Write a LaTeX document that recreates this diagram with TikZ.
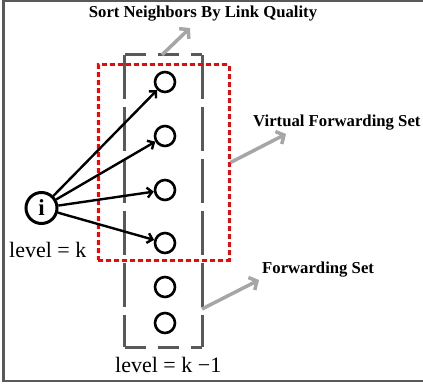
\documentclass[tikz,border=0pt]{standalone}
\usepackage{fontspec}
\setmainfont{Liberation Serif}
\usetikzlibrary{positioning,arrows.meta}

\begin{document}
\begin{tikzpicture}[x=1pt, y=-1pt,
    % Box styles
    levelbox/.style={minimum width=77pt, minimum height=292pt, inner sep=0pt},
    levelv/.style={draw=black!65, line width=3pt, dash pattern=on 44pt off 8pt},
    levelh/.style={draw=black!65, line width=3pt, dash pattern=on 21pt off 12pt},
    vfsbox/.style={draw=red, line width=3pt, dash pattern=on 5pt off 3pt, minimum width=131pt, minimum height=195pt, inner sep=0pt},
    % Node styles
    src/.style={circle, draw, line width=3pt, minimum size=31pt, inner sep=0pt, font=\fontsize{23}{24}\selectfont\bfseries},
    nb/.style={circle, draw, line width=2.6pt, minimum size=20pt, inner sep=0pt},
    % Label styles
    note/.style={font=\fontsize{16.7}{18}\selectfont\bfseries, inner sep=0pt},
    level/.style={font=\fontsize{22}{24}\selectfont, inner sep=0pt},
    % Connector styles
    link/.style={draw, line width=2.4pt, -{Straight Barb[length=5pt, width=10pt, line width=2.4pt]}},
    pointer/.style={draw=black!35, line width=3.5pt, -{Straight Barb[length=6pt, width=14pt, line width=3.5pt]}},
]
\useasboundingbox (0,0) rectangle (423,385);

% Frame (open on the right)
\draw[black!65, line width=2.5pt] (424,1) -- (3.5,1) -- (3.5,381) -- (424,381);

% Sets
\node[levelbox] (level-box) at (163.5,201) {};
\draw[levelv] (level-box.north west) -- (level-box.south west);
\draw[levelv] (level-box.north east) -- (level-box.south east);
\draw[levelh] (level-box.north west) -- (level-box.north east);
\draw[levelh] (level-box.south west) -- (level-box.south east);
\node[vfsbox] (vfs-box) at (163.5,162.5) {};

% Source node and its neighbours
\node[src] (i) at (41.5,208) {i};
\node[nb] (nb1) at (165,82) {};
\node[nb] (nb2) at (165,136) {};
\node[nb] (nb3) at (165,190) {};
\node[nb] (nb4) at (165,243) {};
\node[nb] (nb5) at (165,287) {};
\node[nb] (nb6) at (165,323) {};

% Links to the virtual forwarding set
\foreach \n in {1,...,4}
    \draw[link] (i) -- (nb\n);

% Level labels
\node[level, anchor=base west] (level-k) at (9,257) {level = k};
\node[level, anchor=base west] (level-k1) at (115,372) {level = k −1};

% Notes
\node[note, anchor=base] (sort-label) at (203,17.5) {Sort Neighbors By Link Quality};
\node[note, anchor=base west] (vfs-label) at (253,127) {Virtual Forwarding Set};
\node[note, anchor=base west] (fs-label) at (262,273) {Forwarding Set};

% Pointers to the notes
\coordinate (sort-tip) at (190,28);
\coordinate (vfs-tip) at (286,134);
\coordinate (fs-start) at (202,309);
\coordinate (fs-tip) at (259,280);
\draw[pointer] (level-box.north -| 162,0) -- (sort-tip);
\draw[pointer] (vfs-box.east) -- (vfs-tip);
\draw[pointer] (fs-start) -- (fs-tip);

\end{tikzpicture}
\end{document}
